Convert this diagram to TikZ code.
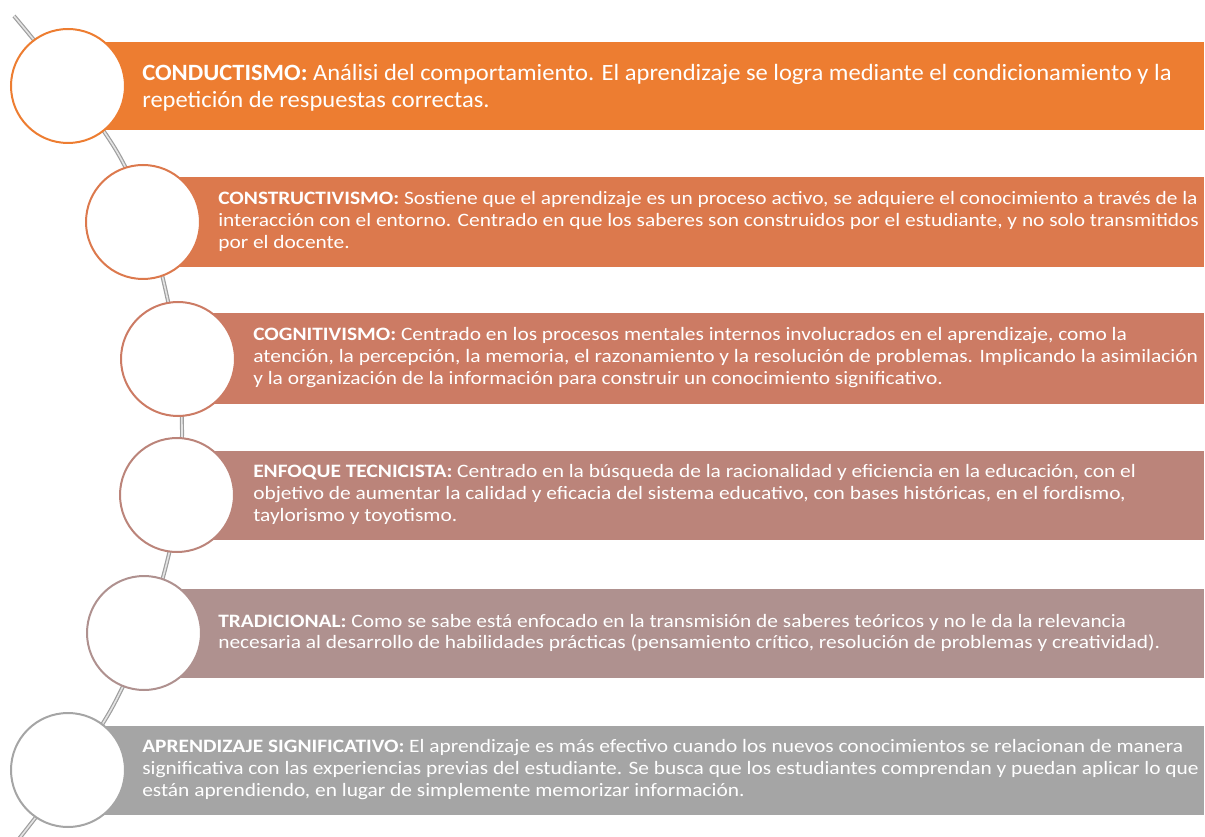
\documentclass[tikz,border=0pt]{standalone}
\usepackage{fontspec}
\setmainfont{Carlito}
\newfontfamily\bodyfont[FakeStretch=1.13]{Carlito}
\newfontfamily\bigfont[FakeStretch=1.052]{Carlito}
\definecolor{cA}{HTML}{ED7D31}
\definecolor{cB}{HTML}{DC794D}
\definecolor{cC}{HTML}{CC7B64}
\definecolor{cD}{HTML}{BB847A}
\definecolor{cE}{HTML}{AF918F}
\definecolor{cF}{HTML}{A5A5A5}
\definecolor{spinegray}{HTML}{9E9E9E}
\definecolor{spinein}{HTML}{E4E4E4}
\tikzset{
  bar/.style={fill=#1, draw=none},
  ring/.style={circle, draw=#1, line width=1.5pt, fill=white, minimum size=85.5pt, inner sep=0pt},
  bodytext/.style={anchor=west, align=left, text=white, inner sep=0pt, font=\bodyfont\fontsize{14.2}{16.3}\selectfont},
  bigtext/.style={anchor=west, align=left, text=white, inner sep=0pt, font=\bigfont\fontsize{17.5}{20.3}\selectfont},
  spine/.style={draw=spinegray, line width=0.9pt, double=spinein, double distance=1.2pt}
}
\begin{document}
\begin{tikzpicture}[x=0.75pt,y=-0.75pt]
\useasboundingbox (0,0) rectangle (1205,837);
% spine
\coordinate (s0) at (14,16);
\coordinate (s1) at (120,157);
\coordinate (s2) at (166,292);
\coordinate (s3) at (182,430);
\coordinate (s4) at (167,562);
\coordinate (s5) at (113,706);
\coordinate (s6) at (18,840);
\draw[spine] plot[smooth, tension=0.6] coordinates {(s0) (s1) (s2) (s3) (s4) (s5) (s6)};
% bars
\fill[bar=cA] (68,42) rectangle (1204,130);
\fill[bar=cB] (143,177) rectangle (1204,267);
\fill[bar=cC] (178,313) rectangle (1204,404);
\fill[bar=cD] (177,451) rectangle (1204,540);
\fill[bar=cE] (144,589) rectangle (1204,678);
\fill[bar=cF] (68,726) rectangle (1204,815);
% circles
\node[ring=cA] (c1) at (68,86) {};
\node[ring=cB] (c2) at (143,222) {};
\node[ring=cC] (c3) at (178,359) {};
\node[ring=cD] (c4) at (177,495) {};
\node[ring=cE] (c5) at (144,633) {};
\node[ring=cF] (c6) at (68,770) {};
% texts
\node[bigtext] (t1) at (142,87.5) {\textbf{CONDUCTISMO:} Análisi del comportamiento. El aprendizaje se logra mediante el condicionamiento y la\\repetición de respuestas correctas.};
\node[bodytext] (t2) at (218,221.5) {\textbf{CONSTRUCTIVISMO:} Sostiene que el aprendizaje es un proceso activo, se adquiere el conocimiento a través de la\\interacción con el entorno. Centrado en que los saberes son construidos por el estudiante, y no solo transmitidos\\por el docente.};
\node[bodytext] (t3) at (253,357.5) {\textbf{COGNITIVISMO:} Centrado en los procesos mentales internos involucrados en el aprendizaje, como la\\atención, la percepción, la memoria, el razonamiento y la resolución de problemas. Implicando la asimilación\\y la organización de la información para construir un conocimiento significativo.};
\node[bodytext] (t4) at (253,494.5) {\textbf{ENFOQUE TECNICISTA:} Centrado en la búsqueda de la racionalidad y eficiencia en la educación, con el\\objetivo de aumentar la calidad y eficacia del sistema educativo, con bases históricas, en el fordismo,\\taylorismo y toyotismo.};
\node[bodytext] (t5) at (218,633) {\textbf{TRADICIONAL:} Como se sabe está enfocado en la transmisión de saberes teóricos y no le da la relevancia\\necesaria al desarrollo de habilidades prácticas (pensamiento crítico, resolución de problemas y creatividad).};
\node[bodytext] (t6) at (142,769.5) {\textbf{APRENDIZAJE SIGNIFICATIVO:} El aprendizaje es más efectivo cuando los nuevos conocimientos se relacionan de manera\\significativa con las experiencias previas del estudiante. Se busca que los estudiantes comprendan y puedan aplicar lo que\\están aprendiendo, en lugar de simplemente memorizar información.};
\end{tikzpicture}
\end{document}
